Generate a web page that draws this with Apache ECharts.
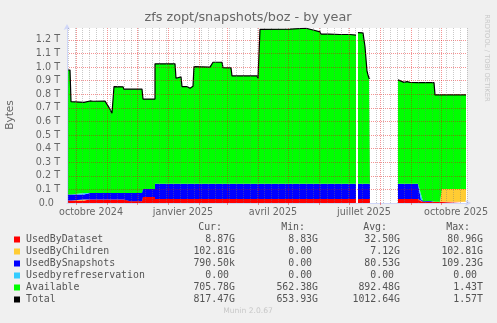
<!DOCTYPE html>
<html><head><meta charset="utf-8">
<script src="https://cdn.jsdelivr.net/npm/echarts@6/dist/echarts.min.js"></script>
<style>html,body{margin:0;padding:0;background:#F0F0F0}#c{width:497px;height:323px}</style>
</head><body><div id="c"></div>
<script>
// x positions: day offset from 2024-09-22 (400-day window)
const days = [0,3,4,17,17,23,26,38,41,43,45,47,56,57,63,63,75,75,76,88,88,108,109,110,114,115,120,123,126,127,143,144,146,155,156,164,165,190,191,192,193,223,224,239,240,246,247,253,254,262,263,273,283,284,289,290,291,296,298,300,301,302,303,317,331,333,337,340,343,345,351,354,356,360,364,366,367,368,373,375,399];
// values in T
const usedByDataset = [0.019,0.019,0.019,0.019,
 0.026,0.026,0.026,0.026,0.026,0.026,0.026,0.026,0.026,0.026,0.026,
 0.012,0.012,
 0.044,0.044,0.044,
 0.029,0.029,0.029,0.029,0.029,0.029,0.029,0.029,0.029,0.029,0.029,0.029,0.029,0.029,0.029,0.029,0.029,0.029,0.029,0.029,0.029,0.029,0.029,0.029,0.029,0.029,0.029,0.029,0.029,0.029,0.029,0.029,0.029,0.029,0.029,
 null,
 0.029,0.029,0.029,0.029,0.029,0.029,0.029,
 null,
 0.029,0.029,0.029,0.029,0.029,0.029,0.029,
 0.012,
 0.009,0.009,0.009,0.009,0.009,0.009,0.009,0.009,0.009];
const usedByChildren = [0,0,0,0,0,0,0,0,0,0,0,0,0,0,0,0,0,0,0,0,0,0,0,0,0,0,0,0,0,0,0,0,0,0,0,0,0,0,0,0,0,0,0,0,0,0,0,0,0,0,0,0,0,0,0,
 null,0,0,0,0,0,0,0,null,0,0,0,0,0,0,0,0,0,0,0,0,0,0,0,0.094,0.094];
const usedBySnapshots = [0.044,0.044,0.044,0.044,
 0.047,0.047,0.047,0.047,0.047,0.047,0.047,0.047,0.047,0.047,0.047,
 0.061,0.061,
 0.059,0.059,0.059,
 0.113,0.113,0.113,0.113,0.113,0.113,0.113,0.113,0.113,0.113,0.113,0.113,0.113,0.113,0.113,0.113,0.113,0.113,0.113,0.113,0.113,0.113,0.113,0.113,0.113,0.113,0.113,0.113,0.113,0.113,0.113,0.113,0.113,0.113,0.113,
 null,
 0.113,0.113,0.113,0.113,0.113,0.113,0.113,
 null,
 0.113,0.113,0.113,0.113,0.113,0.113,0.113,
 0.010,0.003,0.006,0.006,0.001,0,0,0,0,0];
const usedByRefreservation = [0,0,0,0,0,0,0,0,0,0,0,0,0,0,0,0,0,0,0,0,0,0,0,0,0,0,0,0,0,0,0,0,0,0,0,0,0,0,0,0,0,0,0,0,0,0,0,0,0,0,0,0,0,0,0,
 null,0,0,0,0,0,0,0,null,0,0,0,0,0,0,0,0,0,0,0,0,0,0,0,0,0];
const available = [0.916,0.916,0.683,0.678,0.668,0.678,0.676,0.677,0.642,0.617,0.588,0.784,0.782,0.765,0.765,0.765,0.765,0.735,0.662,0.662,
 0.883,0.882,0.776,0.788,0.786,0.715,0.715,0.703,0.718,0.862,0.858,0.854,0.894,0.894,0.854,0.852,0.793,0.793,0.776,0.776,
 1.136,1.138,1.144,1.144,1.131,1.131,1.120,1.118,1.101,1.101,1.096,1.098,1.098,1.094,1.094,
 null,
 1.112,1.110,1.008,0.828,0.801,0.776,0.773,
 null,
 0.764,0.751,0.746,0.751,0.746,0.744,0.744,0.864,0.874,0.871,0.871,0.876,0.877,0.787,0.787,0.693,0.693];

const yTicks = [0,0.1,0.2,0.3,0.4,0.5,0.6,0.7,0.8,0.9,1.0,1.1,1.2];
const monthNames = ['janvier','février','mars','avril','mai','juin','juillet','août','septembre','octobre','novembre','décembre'];

const legendNames = ['UsedByDataset','UsedByChildren','UsedBySnapshots','Usedbyrefreservation','Available','Total'];
const legendColors = ['#FF0000','#FFCC33','#0000FF','#33CCFF','#00FF00','#000000'];
const curVals = ['8.87G','102.81G','790.50k','0.00 ','705.78G','817.47G'];
const minVals = ['8.83G','0.00 ','0.00 ','0.00 ','562.38G','653.93G'];
const avgVals = ['32.50G','7.12G','80.53G','0.00 ','892.48G','1012.64G'];
const maxVals = ['80.96G','102.81G','109.23G','0.00 ','1.43T','1.57T'];

const START = Date.UTC(2024, 8, 22);
const DAYMS = 86400000;
const SPAN = 400;
const ts = i => START + i * DAYMS;
const dt = i => new Date(ts(i));
const monthStarts = [], mondays = [], labelDays = [];
for (let i = 0; i <= SPAN; i++) {
  const d = dt(i);
  if (d.getUTCDate() === 1) monthStarts.push(i);
  else if (d.getUTCDay() === 1) mondays.push(i);
  if (d.getUTCDate() === 16 && d.getUTCMonth() % 3 === 0) labelDays.push(i);
}

const chart = echarts.init(document.getElementById('c'), null, {renderer: 'canvas', width: 497, height: 323});

const redGrid = 'rgba(230,0,0,0.42)';
const greyGrid = 'rgba(120,120,120,0.4)';

const stackDefs = [
  {name: legendNames[0], data: usedByDataset, color: legendColors[0]},
  {name: legendNames[1], data: usedByChildren, color: legendColors[1]},
  {name: legendNames[2], data: usedBySnapshots, color: legendColors[2]},
  {name: legendNames[3], data: usedByRefreservation, color: legendColors[3]},
  {name: legendNames[4], data: available, color: legendColors[4]}
];
const series = stackDefs.map((s, k) => {
  const o = {
    type: 'line', name: s.name, stack: 'total', xAxisIndex: 1, yAxisIndex: 0,
    data: days.map((d, i) => [ts(d), s.data[i]]),
    symbol: 'none', showSymbol: false, connectNulls: false, smooth: false,
    lineStyle: k === 4 ? {color: '#000000', width: 1.2} : {width: 0, opacity: 0},
    areaStyle: {color: s.color, opacity: 1},
    itemStyle: {color: s.color},
    silent: true, animation: false
  };
  if (k === 4) {
    o.markLine = {
      silent: true, symbol: ['none', 'none'], label: {show: false}, animation: false, z: 5,
      data: mondays.map(d => ({xAxis: ts(d), lineStyle: {color: greyGrid, type: [1, 1], width: 1}}))
        .concat(monthStarts.map(d => ({xAxis: ts(d), lineStyle: {color: redGrid, type: [1, 1], width: 1}})))
    };
  }
  return o;
});

const splitColors = yTicks.map((v, i) => i === 0 ? 'rgba(0,0,0,0)' : redGrid).concat(['rgba(0,0,0,0)']);

const graphics = [];
graphics.push({type: 'text', x: 248, y: 18, style: {text: 'zfs zopt/snapshots/boz - by year', fill: '#666', fontSize: 12.8, fontFamily: 'DejaVu Sans', align: 'center', verticalAlign: 'middle'}});
graphics.push({type: 'text', x: 10.5, y: 115, rotation: Math.PI / 2, style: {text: 'Bytes', fill: '#666', fontSize: 10.6, fontFamily: 'DejaVu Sans', align: 'center', verticalAlign: 'middle'}});
graphics.push({type: 'text', x: 487, y: 58, rotation: -Math.PI / 2, style: {text: 'RRDTOOL / TOBI OETIKER', fill: '#C8C8C8', fontSize: 6.8, fontFamily: 'DejaVu Sans', align: 'center', verticalAlign: 'middle'}});
graphics.push({type: 'text', x: 248, y: 311.5, style: {text: 'Munin 2.0.67', fill: '#C8C8C8', fontSize: 7.6, fontFamily: 'DejaVu Sans', align: 'center', verticalAlign: 'middle'}});
const mono = {fill: '#555', fontSize: 9.9, fontFamily: 'DejaVu Sans Mono', verticalAlign: 'middle'};
const headers = ['Cur:', 'Min:', 'Avg:', 'Max:'];
const headerRight = [222, 305, 387, 470];
headers.forEach((h, i) => graphics.push({type: 'text', x: headerRight[i], y: 227.7, style: Object.assign({text: h, align: 'right'}, mono)}));
const colRight = [235, 318, 400, 483];
legendNames.forEach((n, r) => {
  const y = 239.5 + r * 12;
  graphics.push({type: 'rect', shape: {x: 14, y: y - 3, width: 6, height: 6}, style: {fill: legendColors[r]}});
  graphics.push({type: 'text', x: 26, y: y, style: Object.assign({text: n, align: 'left'}, mono)});
  [curVals, minVals, avgVals, maxVals].forEach((arr, c) => {
    graphics.push({type: 'text', x: colRight[c], y: y, style: Object.assign({text: arr[r], align: 'right'}, mono)});
  });
});

chart.setOption({
  animation: false,
  backgroundColor: '#F0F0F0',
  textStyle: {fontFamily: 'DejaVu Sans'},
  grid: {left: 67, right: 30, top: 28, bottom: 120, show: true, backgroundColor: '#FFFFFF', borderWidth: 0},
  xAxis: [
    {type: 'value', min: 0, max: SPAN, z: 4, position: 'bottom',
     axisLine: {show: true, onZero: false, lineStyle: {color: '#CFD6F8', width: 1}, symbol: ['none', 'arrow'], symbolSize: [5, 6], symbolOffset: [0, 4]},
     axisTick: {show: true, customValues: monthStarts, length: 2, lineStyle: {color: redGrid}},
     axisLabel: {customValues: labelDays, color: '#666', fontSize: 9.6, margin: 4, fontFamily: 'DejaVu Sans',
       formatter: v => { const d = dt(v); return monthNames[d.getUTCMonth()] + ' ' + d.getUTCFullYear(); }},
     splitLine: {show: false}},
    {type: 'time', min: ts(0), max: ts(SPAN), show: false, position: 'bottom'}
  ],
  yAxis: {type: 'value', min: 0, max: 1.288, interval: 0.1, z: 4,
    axisLine: {show: true, onZero: false, lineStyle: {color: '#CFD6F8', width: 1}, symbol: ['none', 'arrow'], symbolSize: [5, 6], symbolOffset: [0, 4]},
    axisTick: {show: false},
    axisLabel: {color: '#666', fontSize: 9.6, margin: 7, fontFamily: 'DejaVu Sans',
      formatter: v => { if (v === 0) return '0.0  '; const t = Math.round(v * 10); if (Math.abs(v * 10 - t) > 1e-6) return ''; return (t / 10).toFixed(1) + ' T'; }},
    splitLine: {show: true, lineStyle: {color: splitColors, type: [1, 1], width: 1}}
  },
  series: series,
  graphic: graphics
});
</script>
</body></html>
